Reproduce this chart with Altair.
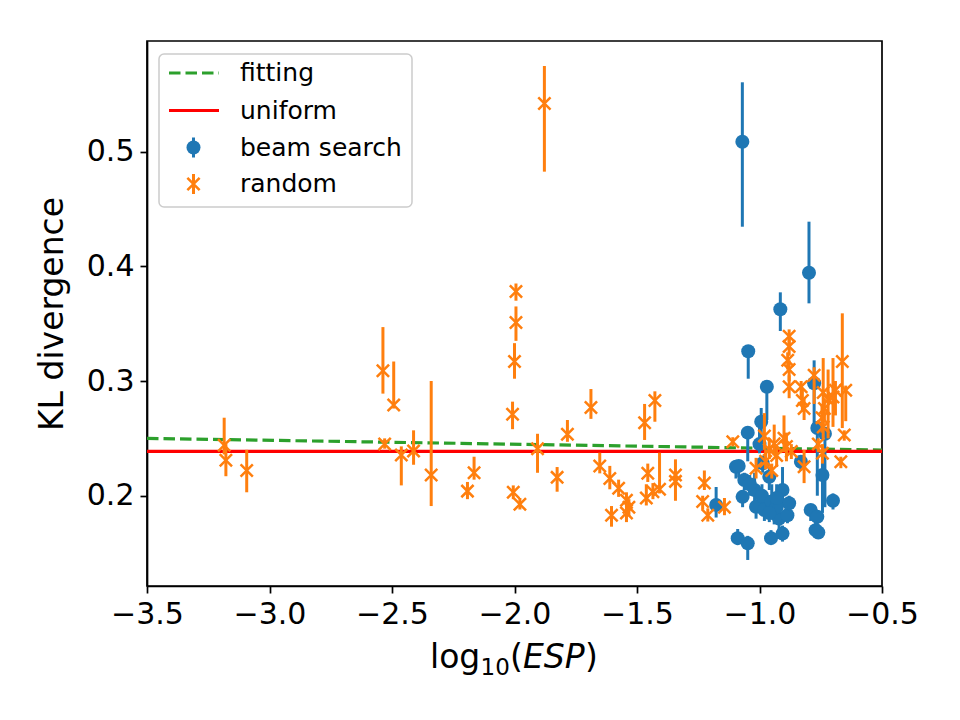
import altair as alt
import pandas as pd

# ---- random sampling: log10(ESP), KL divergence, error-bar low / high ----
rand_x = [-3.185, -3.178, -3.093, -2.537, -2.493, -2.530, -2.462, -2.412, -2.340,
          -2.192, -2.165, -1.994, -1.994, -2.000, -2.008, -2.005, -1.978, -1.906,
          -1.826, -1.784, -1.688, -1.652, -1.611, -1.604, -1.575, -1.543, -1.543,
          -1.533, -1.469, -1.427, -1.456, -1.462, -1.435, -1.408, -1.343, -1.343,
          -1.225, -1.232, -1.211, -1.143, -1.109, -1.014, -0.980, -0.960, -0.940,
          -0.930, -0.900, -0.890, -0.870, -0.975, -0.950, -0.879, -0.879, -0.885,
          -0.879, -0.879, -0.830, -0.825, -0.818, -0.777, -0.740, -0.720, -0.700,
          -0.690, -0.735, -0.745, -0.740, -0.662, -0.648, -0.654, -0.668, -0.743,
          -0.818, -0.760, -1.878]
rand_y = [0.244, 0.231, 0.222, 0.309, 0.279, 0.245, 0.2355, 0.239, 0.218,
          0.204, 0.220, 0.378, 0.351, 0.317, 0.271, 0.203, 0.1925, 0.241,
          0.216, 0.2535, 0.277, 0.226, 0.215, 0.183, 0.2065, 0.196, 0.185,
          0.190, 0.2636, 0.283, 0.2195, 0.198, 0.2035, 0.2056, 0.218, 0.2125,
          0.211, 0.195, 0.183, 0.190, 0.247, 0.224, 0.252, 0.240, 0.2453,
          0.235, 0.250, 0.243, 0.2386, 0.230, 0.222, 0.339, 0.330, 0.318,
          0.310, 0.295, 0.295, 0.283, 0.276, 0.305, 0.290, 0.284, 0.286,
          0.292, 0.276, 0.268, 0.260, 0.317, 0.292, 0.253, 0.2296, 0.237,
          0.2253, 0.245, 0.542]
rand_lo = [0.236, 0.217, 0.203, 0.289, 0.276, 0.241, 0.209, 0.227, 0.191,
           0.197, 0.214, 0.370, 0.335, 0.302, 0.258, 0.197, 0.188, 0.220,
           0.2035, 0.247, 0.267, 0.2195, 0.2056, 0.173, 0.199, 0.190, 0.177,
           0.182, 0.2486, 0.2645, 0.212, 0.1915, 0.197, 0.202, 0.1956, 0.207,
           0.205, 0.188, 0.1775, 0.183, 0.243, 0.215, 0.240, 0.232, 0.236,
           0.225, 0.238, 0.230, 0.232, 0.223, 0.215, 0.330, 0.322, 0.310,
           0.300, 0.285, 0.285, 0.273, 0.266, 0.280, 0.262, 0.250, 0.260,
           0.270, 0.265, 0.255, 0.250, 0.259, 0.265, 0.248, 0.224, 0.228,
           0.211, 0.238, 0.4825]
rand_hi = [0.268, 0.245, 0.240, 0.347, 0.317, 0.250, 0.243, 0.257, 0.300,
           0.212, 0.234, 0.385, 0.365, 0.333, 0.282, 0.209, 0.198, 0.254,
           0.225, 0.266, 0.293, 0.2375, 0.226, 0.191, 0.214, 0.203, 0.192,
           0.197, 0.280, 0.291, 0.228, 0.210, 0.211, 0.2375, 0.2317, 0.218,
           0.222, 0.200, 0.189, 0.198, 0.251, 0.233, 0.272, 0.250, 0.262,
           0.245, 0.270, 0.255, 0.245, 0.240, 0.228, 0.345, 0.337, 0.325,
           0.318, 0.305, 0.300, 0.293, 0.285, 0.312, 0.320, 0.310, 0.320,
           0.300, 0.285, 0.280, 0.270, 0.359, 0.296, 0.257, 0.234, 0.245,
           0.240, 0.250, 0.5746]

# ---- beam search ----
beam_x = [-1.070, -0.798, -0.915, -1.046, -0.970, -0.777, -0.993, -1.048, -0.764,
          -0.733, -1.096, -1.085, -1.062, -1.069, -1.177, -1.089, -1.048, -1.014,
          -0.980, -0.953, -0.906, -0.940, -0.920, -0.886, -0.879, -0.906, -0.960,
          -0.987, -0.831, -0.743, -0.700, -0.791, -0.764, -0.771, -0.760, -1.020,
          -0.990, -0.950, -0.930, -1.040, -0.960, -0.930, -1.000]
beam_y = [0.5086, 0.3944, 0.3625, 0.326, 0.295, 0.298, 0.2645, 0.255, 0.259,
          0.254, 0.2253, 0.226, 0.2137, 0.199, 0.192, 0.163, 0.1585, 0.1904,
          0.1875, 0.163, 0.205, 0.1847, 0.180, 0.183, 0.1934, 0.167, 0.2166,
          0.2283, 0.2296, 0.218, 0.1956, 0.1875, 0.1817, 0.170, 0.168, 0.205,
          0.200, 0.195, 0.190, 0.210, 0.185, 0.198, 0.245]
beam_lo = [0.4345, 0.3677, 0.3436, 0.302, 0.266, 0.262, 0.245, 0.230, 0.200,
           0.190, 0.215, 0.216, 0.205, 0.190, 0.181, 0.157, 0.144, 0.180,
           0.178, 0.158, 0.190, 0.175, 0.170, 0.176, 0.185, 0.160, 0.205,
           0.220, 0.222, 0.185, 0.188, 0.178, 0.175, 0.165, 0.163, 0.195,
           0.190, 0.185, 0.180, 0.200, 0.177, 0.190, 0.237]
beam_hi = [0.5604, 0.4389, 0.3773, 0.331, 0.300, 0.318, 0.2765, 0.258, 0.263,
           0.258, 0.229, 0.231, 0.220, 0.205, 0.2076, 0.171, 0.165, 0.197,
           0.195, 0.170, 0.225, 0.190, 0.187, 0.190, 0.200, 0.174, 0.225,
           0.235, 0.233, 0.232, 0.202, 0.190, 0.187, 0.178, 0.175, 0.220,
           0.210, 0.210, 0.200, 0.218, 0.200, 0.210, 0.260]

# ---- reference lines ----
fit_x = [-3.5, -0.5]
fit_y = [0.2500, 0.2398]
uniform_x = [-3.5, -0.5]
uniform_y = [0.2386, 0.2386]

x_ticks = [-3.5, -3.0, -2.5, -2.0, -1.5, -1.0, -0.5]
y_ticks = [0.2, 0.3, 0.4, 0.5]

BLUE = "#1f77b4"
ORANGE = "#ff7f0e"
GREEN = "#2ca02c"
RED = "#ff0000"
FONT = "DejaVu Sans"
W, H = 735, 545

rand = pd.DataFrame({"x": rand_x, "y": rand_y, "lo": rand_lo, "hi": rand_hi})
beam = pd.DataFrame({"x": beam_x, "y": beam_y, "lo": beam_lo, "hi": beam_hi})
fit = pd.DataFrame({"x": fit_x, "y": fit_y})
uni = pd.DataFrame({"x": uniform_x, "y": uniform_y})

xs = alt.Scale(domain=[-3.5, -0.5], nice=False, zero=False)
ys = alt.Scale(domain=[0.1213, 0.5964], nice=False, zero=False)

x_axis = alt.Axis(values=x_ticks, format=".1f", title=None, grid=False,
                  labelFontSize=30, labelColor="black", tickSize=7, tickWidth=1.7,
                  tickColor="black", domainColor="black", domainWidth=1.7,
                  labelPadding=6, labelFlush=False)
y_axis = alt.Axis(values=y_ticks, format=".1f", title="KL divergence", grid=False,
                  labelFontSize=30, labelColor="black", tickSize=7, tickWidth=1.7,
                  tickColor="black", domainColor="black", domainWidth=1.7,
                  labelPadding=6, titleFontSize=33, titleFontWeight="normal",
                  titleColor="black", titleAngle=270, titleX=-95, titleY=W * 0 + H / 2,
                  titleAlign="center", titleBaseline="middle")

X = alt.X("x:Q", scale=xs, axis=x_axis)
Y = alt.Y("y:Q", scale=ys, axis=y_axis)

fit_line = alt.Chart(fit).mark_line(color=GREEN, strokeWidth=3.2,
                                    strokeDash=[11.5, 5]).encode(x=X, y=Y)
uni_line = alt.Chart(uni).mark_line(color=RED, strokeWidth=3.2).encode(x=X, y=Y)

beam_bars = alt.Chart(beam).mark_rule(color=BLUE, strokeWidth=3).encode(
    x=alt.X("x:Q", scale=xs), y=alt.Y("lo:Q", scale=ys), y2="hi:Q")
beam_pts = alt.Chart(beam).mark_point(shape="circle", filled=True, size=196,
                                      color=BLUE, opacity=1).encode(x=X, y=Y)

rand_bars = alt.Chart(rand).mark_rule(color=ORANGE, strokeWidth=3).encode(
    x=alt.X("x:Q", scale=xs), y=alt.Y("lo:Q", scale=ys), y2="hi:Q")
rand_pts = alt.Chart(rand).mark_point(shape="M-1,-1L1,1M-1,1L1,-1", filled=False,
                                      size=150, strokeWidth=2.5, color=ORANGE,
                                      opacity=1).encode(x=X, y=Y)

one = pd.DataFrame({"k": [0]})

# ---- legend box ----
legend_box = alt.Chart(one).mark_rect(fill="white", fillOpacity=0.8, stroke="#cccccc",
                                      strokeWidth=1.5, cornerRadius=5).encode(
    x=alt.value(12), x2=alt.value(265), y=alt.value(13), y2=alt.value(166))
leg_fit = alt.Chart(one).mark_rule(color=GREEN, strokeWidth=3.2,
                                   strokeDash=[11.5, 5]).encode(
    x=alt.value(22), x2=alt.value(72), y=alt.value(32))
leg_uni = alt.Chart(one).mark_rule(color=RED, strokeWidth=3.2).encode(
    x=alt.value(22), x2=alt.value(72), y=alt.value(69.5))
leg_beam_bar = alt.Chart(one).mark_rule(color=BLUE, strokeWidth=3).encode(
    x=alt.value(46.5), y=alt.value(96.5), y2=alt.value(116.5))
leg_beam_pt = alt.Chart(one).mark_point(shape="circle", filled=True, size=196,
                                        color=BLUE, opacity=1).encode(
    x=alt.value(46.5), y=alt.value(106.5))
leg_rand_bar = alt.Chart(one).mark_rule(color=ORANGE, strokeWidth=3).encode(
    x=alt.value(46.5), y=alt.value(133), y2=alt.value(153))
leg_rand_pt = alt.Chart(one).mark_point(shape="M-1,-1L1,1M-1,1L1,-1", filled=False,
                                        size=150, strokeWidth=2.5, color=ORANGE,
                                        opacity=1).encode(
    x=alt.value(46.5), y=alt.value(143))

legend_labels = ["fitting", "uniform", "beam search", "random"]
legend_rows = [32, 69.5, 106.5, 143]
leg_text = [
    alt.Chart(one).mark_text(text=t, font=FONT, fontSize=25, color="black",
                             align="left", baseline="middle").encode(
        x=alt.value(93), y=alt.value(r))
    for t, r in zip(legend_labels, legend_rows)
]

# ---- x-axis title: log10(ESP) with subscript and italic ----
def piece(txt, x, y, size=33, style="normal"):
    return alt.Chart(one).mark_text(text=txt, font=FONT, fontSize=size, color="black",
                                    align="left", baseline="alphabetic",
                                    fontStyle=style).encode(
        x=alt.value(x), y=alt.value(y))

xt_base = H + 82
x_title = [
    piece("log", 283, xt_base),
    piece("10", 333.5, xt_base + 7, size=23),
    piece("(", 363, xt_base),
    piece("ESP", 376, xt_base, style="italic"),
    piece(")", 438, xt_base),
]

chart = alt.layer(
    fit_line, uni_line, beam_bars, beam_pts, rand_bars, rand_pts,
    legend_box, leg_fit, leg_uni, leg_beam_bar, leg_beam_pt, leg_rand_bar, leg_rand_pt,
    *leg_text, *x_title,
).properties(
    width=W, height=H,
    autosize=alt.AutoSizeParams(type="none"),
    padding={"left": 147, "top": 41, "right": 78, "bottom": 134},
).configure(
    font=FONT,
).configure_view(
    stroke="black", strokeWidth=1.7,
).configure_axis(
    labelFont=FONT, titleFont=FONT,
)

chart.save("out.html", embed_options={"renderer": "svg", "actions": False})
